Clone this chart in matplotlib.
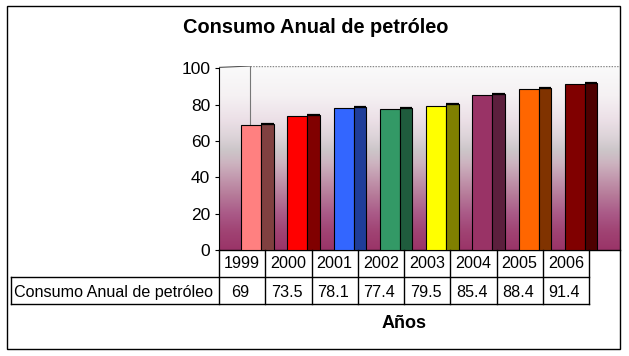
import matplotlib
matplotlib.use("Agg")
import matplotlib.pyplot as plt
import numpy as np
from matplotlib.colors import LinearSegmentedColormap
from matplotlib.patches import Rectangle
from matplotlib.lines import Line2D

# ---------------- data ----------------
years = ["1999", "2000", "2001", "2002", "2003", "2004", "2005", "2006"]
values = [69, 73.5, 78.1, 77.4, 79.5, 85.4, 88.4, 91.4]
value_labels = ["69", "73.5", "78.1", "77.4", "79.5", "85.4", "88.4", "91.4"]
series_name = "Consumo Anual de petróleo"
title = "Consumo Anual de petróleo"
xlabel = "Años"
yticks = [0, 20, 40, 60, 80, 100]
front_colors = ["#FF8080", "#FF0000", "#3366FF", "#339966",
                "#FFFF00", "#993366", "#FF6600", "#800000"]
side_colors = ["#804040", "#800000", "#1F3D99", "#1F5C3D",
               "#808000", "#5C1F3D", "#803300", "#4D0000"]

plt.rcParams['font.family'] = ['Liberation Sans', 'DejaVu Sans']

W, H = 629, 356
fig = plt.figure(figsize=(W / 100, H / 100), dpi=100)
fig.patch.set_facecolor("white")

def fx(px):
    return px / W

def fy(py):
    return 1 - py / H

# outer border
fig.add_artist(Rectangle((fx(7), fy(349)), fx(620) - fx(7), fy(6) - fy(349),
                         transform=fig.transFigure, fill=False,
                         edgecolor="black", lw=1.0))

# ---------------- chart axes ----------------
ax_left, ax_right = 218.5, 620
ax_top, ax_bot = 66, 250
px_per_cat = 46.25
px_per_unit = (250 - 68.3) / 100
ax = fig.add_axes([fx(ax_left), fy(ax_bot), fx(ax_right) - fx(ax_left),
                   fy(ax_top) - fy(ax_bot)])
xmax = (ax_right - ax_left) / px_per_cat
ymax = (ax_bot - ax_top) / px_per_unit
ax.set_xlim(0, xmax)
ax.set_ylim(0, ymax)

# gradient background
stops = [(0.0, "#9A3468"), (10, "#A04373"), (20, "#AA5A88"), (30, "#B67A99"),
         (40, "#C39AAF"), (48, "#CDB4C0"), (55, "#CCC6C9"), (62, "#DCD3D8"),
         (72, "#ECE0E7"), (85, "#F5F1F3"), (ymax, "#FAFAFA")]
cmap = LinearSegmentedColormap.from_list(
    "bg", [(v / ymax, c) for v, c in stops])
grad = np.linspace(0, 1, 256).reshape(-1, 1)
ax.imshow(grad, cmap=cmap, origin="lower", aspect="auto",
          extent=(0, xmax, 0, ymax), zorder=0)

# back wall corner line
corner_x = (250 - ax_left) / px_per_cat
ax.plot([corner_x, corner_x], [0, ymax], color="#777777", lw=0.8, zorder=1)
ax.plot([0, corner_x], [ymax - 0.8, ymax], color="#555555", lw=0.8, zorder=1)
ax.plot([corner_x, xmax], [ymax, ymax], color="#888888", lw=1.0,
        linestyle=(0, (1, 1)), zorder=1)

# bars (front face + darker side face)
idx = np.arange(len(years))
ax.bar(idx + 0.49, values, width=0.43, align="edge", color=front_colors,
       edgecolor="black", linewidth=0.8, zorder=3)
ax.bar(idx + 0.92, np.array(values) + 0.6, width=0.27, align="edge",
       color=side_colors, edgecolor="black", linewidth=0.8, zorder=3)
for i, v in enumerate(values):
    ax.plot([i + 0.92, i + 1.19], [v + 0.6, v + 0.6], color="black",
            lw=1.6, zorder=4, solid_capstyle="butt")

# axes styling
for s in ["top", "right"]:
    ax.spines[s].set_visible(False)
ax.spines["left"].set_color("black")
ax.spines["left"].set_bounds(0, 100)
ax.spines["bottom"].set_color("black")
ax.spines["bottom"].set_linewidth(1.0)
ax.set_yticks(yticks)
ax.set_yticklabels([str(t) for t in yticks], fontsize=12.5)
ax.tick_params(axis="y", length=3, width=0.8, pad=3, colors="black")
ax.set_xticks([])

# ---------------- data table ----------------
tab_left = 11
col0 = 219
col_w = px_per_cat
row_top, row_mid, row_bot = 250, 277, 304
n = len(years)
col_right = col0 + n * col_w
lw = 1.0

def hline(y, x0, x1):
    fig.add_artist(Line2D([fx(x0), fx(x1)], [fy(y), fy(y)],
                          transform=fig.transFigure, color="black", lw=lw))

def vline(x, y0, y1):
    fig.add_artist(Line2D([fx(x), fx(x)], [fy(y0), fy(y1)],
                          transform=fig.transFigure, color="black", lw=lw))

hline(row_mid, tab_left, col_right)
hline(row_bot, tab_left, col_right)
vline(tab_left, row_mid, row_bot)
for k in range(n + 1):
    vline(col0 + k * col_w, row_top, row_bot)

for k, (yr, lab) in enumerate(zip(years, value_labels)):
    cx = col0 + (k + 0.5) * col_w
    fig.text(fx(cx), fy(263.5), yr, ha="center", va="center", fontsize=11.6)
    fig.text(fx(cx - 1.5), fy(292.5), lab, ha="center", va="center",
             fontsize=11.6)
fig.text(fx(14), fy(292.5), series_name, ha="left", va="center",
         fontsize=11.6)

# titles
fig.text(fx(315.5), fy(27.5), title, ha="center", va="center",
         fontsize=14.4, fontweight="bold")
fig.text(fx(404), fy(323), xlabel, ha="center", va="center",
         fontsize=13, fontweight="bold")

fig.savefig("out.png", dpi=100, facecolor="white")
